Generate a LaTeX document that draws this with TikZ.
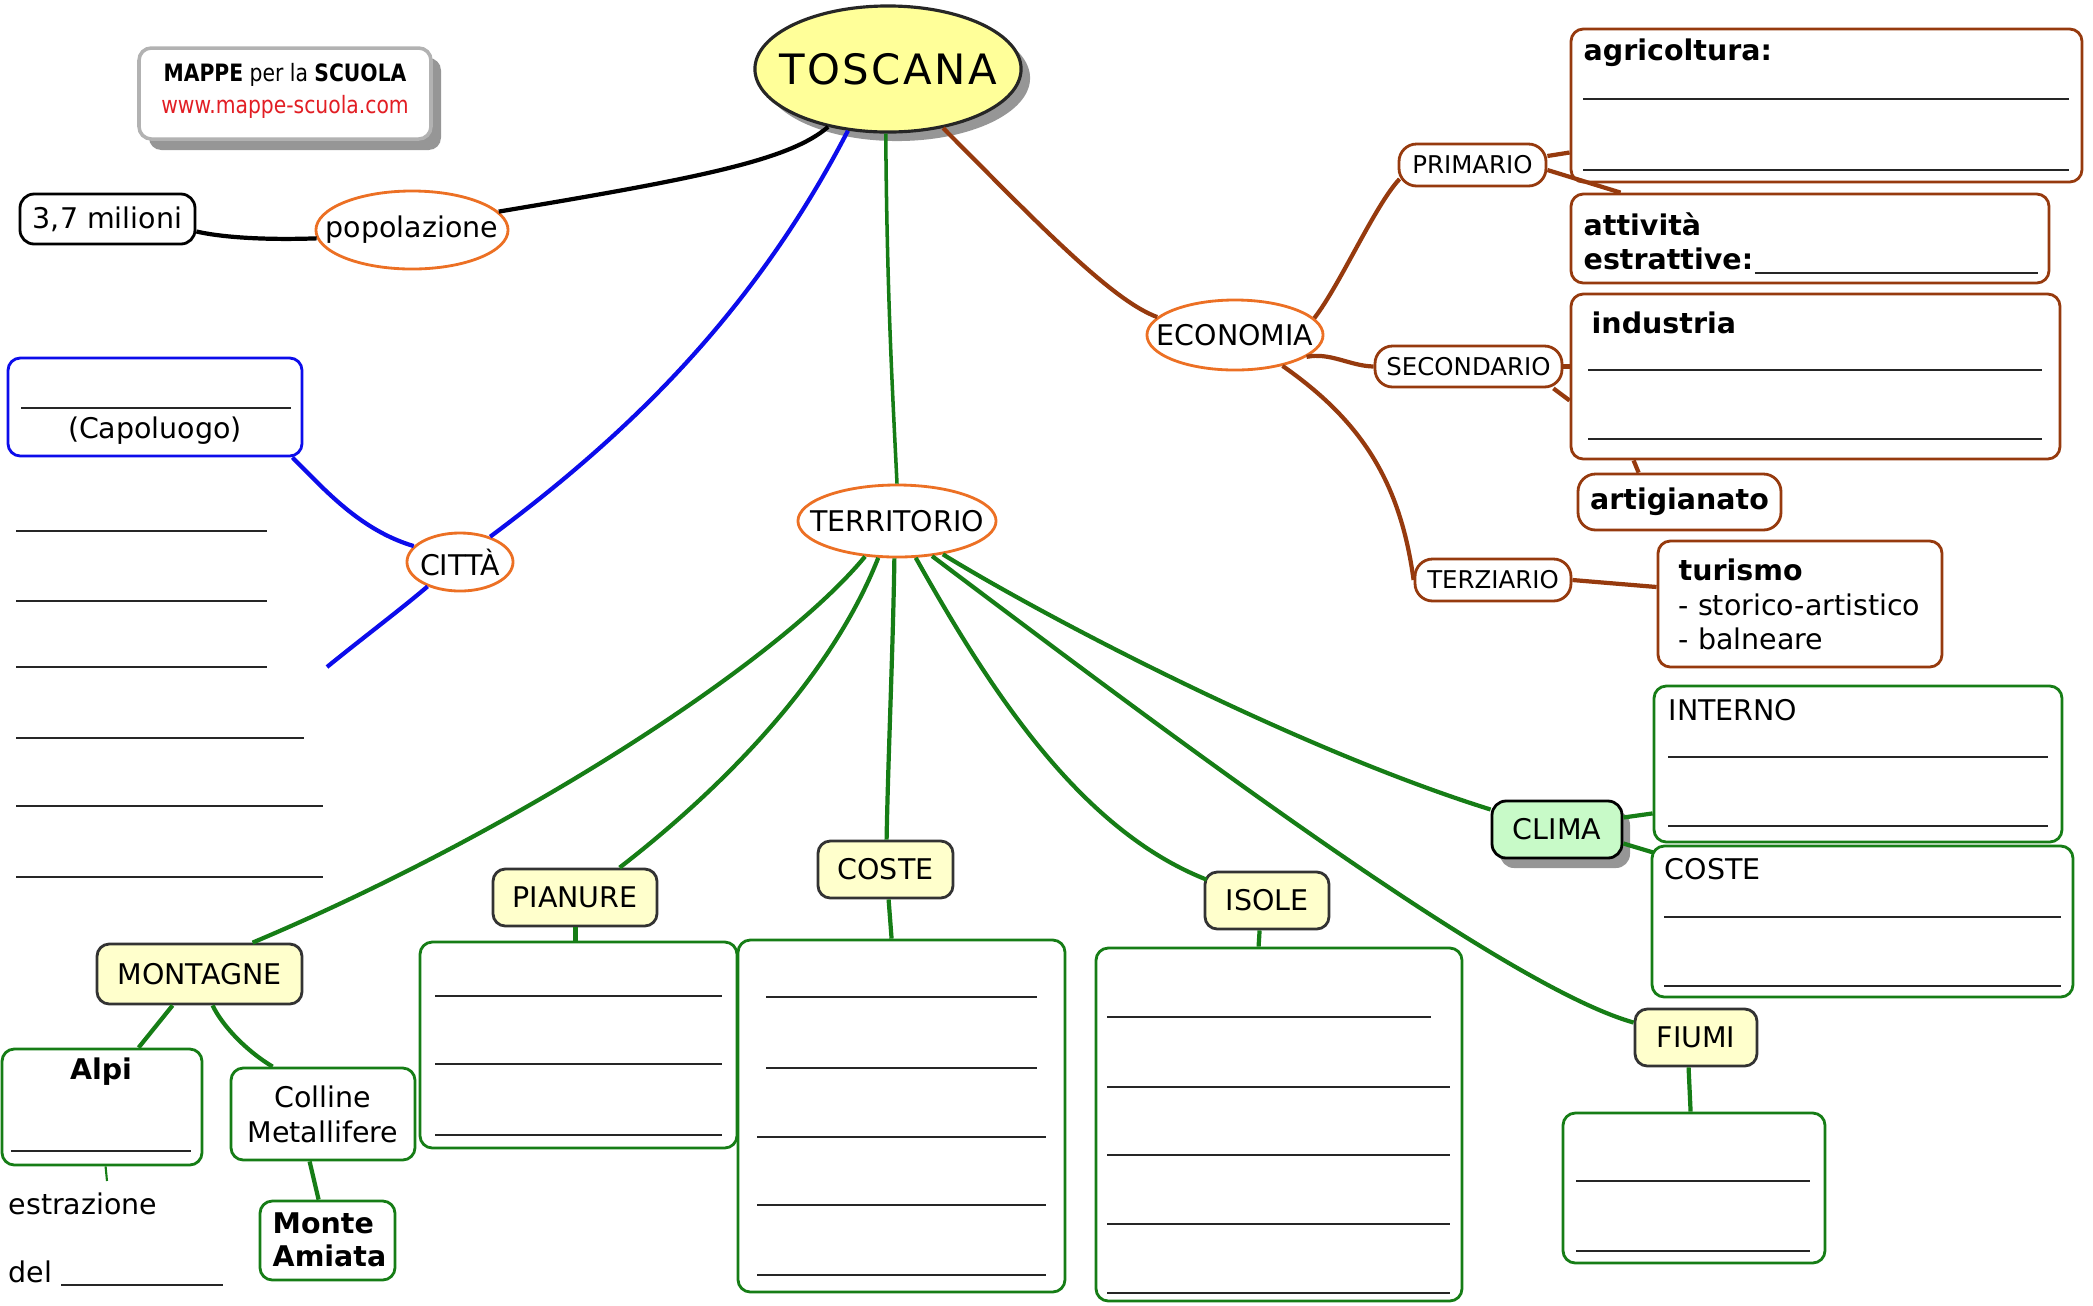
\documentclass[tikz,border=0pt]{standalone}
\usepackage{fontspec}
\setmainfont{DejaVu Sans}
\newfontfamily\logofont{DejaVu Sans}[FakeStretch=0.85]
\usetikzlibrary{shapes.geometric,fit,calc}
\definecolor{orng}{RGB}{236,112,36}
\definecolor{brwn}{RGB}{150,58,14}
\definecolor{grn}{RGB}{22,125,22}
\definecolor{blu}{RGB}{12,12,235}
\definecolor{yel}{RGB}{255,255,153}
\definecolor{lyel}{RGB}{255,255,204}
\definecolor{lgrn}{RGB}{200,250,200}
\definecolor{shad}{RGB}{150,150,150}
\definecolor{logored}{RGB}{226,30,36}
\newcommand\basefs{\fontsize{8.1}{9.9}\selectfont}
\newcommand\smallfs{\fontsize{6.95}{8.3}\selectfont}
\newcommand\boldfs{\fontsize{8.1}{9.5}\selectfont\bfseries}
\tikzset{
  every node/.style={font=\basefs, inner sep=0pt},
  fitbox/.style={draw, rounded corners=3.5pt, line width=0.8pt, inner sep=0pt, fill=white},
  brbox/.style={fitbox, draw=brwn},
  grbox/.style={fitbox, draw=grn},
  ylbox/.style={fitbox, draw=black!80, fill=lyel},
  ell/.style={ellipse, draw=orng, line width=0.8pt, fill=white, inner sep=0pt},
  conn/.style={line width=1.2pt},
  blank/.style={line width=0.5pt, draw=black!85},
}
\begin{document}
\begin{tikzpicture}[x=0.01cm,y=-0.01cm]
\useasboundingbox (0,0) rectangle (2093,1305);

% logo
\node[fitbox, draw=none, fill=shad, fit={(149,58) (441,150)}] (logosh) {};
\node[fitbox, draw=black!30, line width=1pt, fit={(139,48) (431,139)}] (logo) {};
\node[font=\logofont\fontsize{6.8}{8}\selectfont] (logo1) at (285,75) {\textbf{MAPPE} per la \textbf{SCUOLA}};
\node[font=\logofont\fontsize{6.8}{8}\selectfont, text=logored] (logo2) at (285,107) {www.mappe-scuola.com};

% TOSCANA
\node[ellipse, fill=shad, minimum width=2.66cm, minimum height=1.26cm] (toscsh) at (897,78) {};
\node[ellipse, draw=black!85, line width=0.9pt, fill=yel, minimum width=2.66cm, minimum height=1.26cm] (tosc) at (888,69) {};
\node[font={\fontsize{11.9}{14}\selectfont\addfontfeature{LetterSpace=6}}] (toscT) at (888,69) {TOSCANA};

% popolazione
\node[ell, minimum width=1.92cm, minimum height=0.78cm] (pop) at (412,230) {};
\node (popT) at (412,230) {popolazione};
\node[fitbox, draw=black, rounded corners=4pt, fit={(20,194) (195,244)}] (mil) {};
\node (milT) at (mil.center) {3,7 milioni};
\draw[conn] (tosc.224) .. controls (790,160) and (700,178) .. (pop.12);
\draw[conn] (pop.185) .. controls (270,240) and (225,238) .. (mil.-8);

% CITTA
\node[fitbox, draw=blu, fit={(8,358) (302,456)}] (capo) {};
\draw[blank] (21,408) -- (291,408);
\node (capoT) at (155,431) {(Capoluogo)};
\node[ell, minimum width=1.06cm, minimum height=0.58cm] (citta) at (460,562) {};
\node (cittaT) at (460,562) {CITTÀ};
\coordinate (cityend) at (327,667);
\draw[conn, blu] (tosc.237) .. controls (750,320) and (620,440) .. (citta.40);
\draw[conn, blu] ($(capo.south east)+(-11,0)$) .. controls (325,490) and (360,530) .. (citta.161);
\draw[conn, blu] (citta.217) .. controls (400,610) and (360,640) .. (cityend);
\draw[blank] (16,531) -- (267,531);
\draw[blank] (16,601) -- (267,601);
\draw[blank] (16,667) -- (267,667);
\draw[blank] (16,738) -- (304,738);
\draw[blank] (16,806) -- (323,806);
\draw[blank] (16,877) -- (323,877);

% TERRITORIO
\node[ell, minimum width=1.98cm, minimum height=0.72cm] (terr) at (897,521) {};
\node (terrT) at (897,521) {TERRITORIO};
\draw[conn, grn, line width=1pt] (tosc.268) .. controls (887,300) and (893,400) .. (terr.90);

% ECONOMIA
\node[ell, minimum width=1.76cm, minimum height=0.70cm] (eco) at (1235,335) {};
\node (ecoT) at (1235,335) {ECONOMIA};
\draw[conn, brwn] (tosc.313) .. controls (1030,215) and (1110,300) .. (eco.167);

\node[brbox, rounded corners=5pt, fit={(1399,144) (1546,186)}] (prim) {};
\node[font=\smallfs] (primT) at (prim.center) {PRIMARIO};
\node[brbox, fit={(1571,29) (2082,182)}] (agri) {};
\node[anchor=west, font=\boldfs] (agriT) at (1583,53) {agricoltura:};
\draw[blank] (1583,99) -- (2069,99);
\draw[blank] (1583,170) -- (2069,170);
\node[brbox, fit={(1571,194) (2049,283)}] (attiv) {};
\node[anchor=west, font=\boldfs] (attT1) at (1583,224) {attività};
\node[anchor=west, font=\boldfs] (attT2) at (1583,259) {estrattive:};
\coordinate (attR) at (2038,0);
\draw[blank] ($(attT2.base east)+(1,3)$) -- ($(attT2.base east -| attR)+(0,3)$);
\draw[conn, brwn] (eco.12) .. controls (1340,285) and (1375,205) .. ($(prim.west)+(2,14)$);
\draw[conn, brwn] ($(prim.east)+(0,-9)$) -- ($(agri.west)+(0,47)$);
\draw[conn, brwn] ($(prim.east)+(0,5)$) -- ($(attiv.north west)+(51,0)$);

\node[brbox, rounded corners=5pt, fit={(1375,346) (1562,387)}] (sec) {};
\node[font=\smallfs] (secT) at (sec.center) {SECONDARIO};
\node[brbox, fit={(1571,294) (2060,459)}] (ind) {};
\node[anchor=west, font=\boldfs] (indT) at (1591,323) {industria};
\draw[blank] (1588,370) -- (2042,370);
\draw[blank] (1588,439) -- (2042,439);
\node[brbox, rounded corners=5pt, fit={(1578,474) (1781,530)}] (arti) {};
\node[font=\boldfs] (artiT) at (arti.center) {artigianato};
\draw[conn, brwn] (eco.-17) .. controls (1330,352) and (1350,366) .. (sec.west);
\draw[conn, brwn] (sec.east) -- (sec.east -| ind.west);
\draw[conn, brwn] ($(sec.south east)+(-10,0)$) -- ($(ind.west)+(0,24)$);
\draw[conn, brwn] ($(ind.south west)+(64,0)$) -- ($(arti.north west)+(62,0)$);

\node[brbox, rounded corners=5pt, fit={(1415,559) (1571,601)}] (terz) {};
\node[font=\smallfs] (terzT) at (terz.center) {TERZIARIO};
\node[brbox, fit={(1658,541) (1942,667)}] (tur) {};
\node[anchor=west, font=\boldfs] (turT1) at (1678,570) {turismo};
\node[anchor=west] (turT2) at (1678,605) {- storico-artistico};
\node[anchor=west] (turT3) at (1678,639) {- balneare};
\draw[conn, brwn] (eco.-33) .. controls (1360,420) and (1400,480) .. (terz.west);
\draw[conn, brwn] (terz.east) -- ($(tur.west)+(0,-17)$);

% CLIMA
\node[fitbox, draw=none, fill=shad, rounded corners=4pt, fit={(1500,811) (1630,868)}] (climash) {};
\node[fitbox, draw=black, fill=lgrn, rounded corners=4pt, fit={(1492,801) (1622,858)}] (clima) {};
\node (climaT) at (clima.center) {CLIMA};
\node[grbox, fit={(1654,686) (2062,842)}] (intern) {};
\node[anchor=west] (internT) at (1668,710) {INTERNO};
\draw[blank] (1668,757) -- (2048,757);
\draw[blank] (1668,826) -- (2048,826);
\node[grbox, fit={(1652,846) (2073,997)}] (costc) {};
\node[anchor=west] (costcT) at (1664,869) {COSTE};
\draw[blank] (1664,917) -- (2061,917);
\draw[blank] (1664,986) -- (2061,986);
\draw[conn, grn] ($(clima.east)+(0,-12)$) -- ($(intern.south west)+(0,-30)$);
\draw[conn, grn] ($(clima.east)+(0,14)$) -- ($(costc.north west)+(3,8)$);

% territorio children
\node[ylbox, fit={(97,944) (302,1004)}] (mont) {};
\node (montT) at (mont.center) {MONTAGNE};
\node[ylbox, fit={(493,869) (657,926)}] (pian) {};
\node (pianT) at (pian.center) {PIANURE};
\node[ylbox, fit={(818,841) (953,898)}] (coste) {};
\node (costeT) at (coste.center) {COSTE};
\node[ylbox, fit={(1205,872) (1329,929)}] (isole) {};
\node (isoleT) at (isole.center) {ISOLE};
\node[ylbox, fit={(1635,1009) (1757,1066)}] (fiumi) {};
\node (fiumiT) at (fiumi.center) {FIUMI};
\draw[conn, grn] (terr.228) .. controls (780,660) and (520,830) .. ($(mont.north west)+(157,0)$);
\draw[conn, grn] (terr.243) .. controls (830,680) and (720,790) .. ($(pian.north west)+(128,0)$);
\draw[conn, grn] (terr.266) .. controls (893,650) and (888,760) .. ($(coste.north west)+(70,0)$);
\draw[conn, grn] (terr.297) .. controls (990,690) and (1080,830) .. ($(isole.north west)+(3,9)$);
\draw[conn, grn] (terr.315) .. controls (1150,720) and (1500,985) .. ($(fiumi.west)+(0,-15)$);
\draw[conn, grn] (terr.324) .. controls (1050,620) and (1300,750) .. ($(clima.west)+(0,-20)$);

% montagne children
\node[grbox, fit={(2,1049) (202,1165)}] (alpi) {};
\node[font=\boldfs] (alpiT) at (101,1072) {Alpi};
\draw[blank] (11,1151) -- (191,1151);
\node[grbox, fit={(231,1068) (415,1160)}] (coll) {};
\node[align=center] (collT) at (coll.center) {Colline\\Metallifere};
\node[grbox, fit={(260,1201) (395,1280)}] (amiata) {};
\node[anchor=west, align=left, font={\fontsize{8.1}{9.4}\selectfont\bfseries}] (amiataT) at (272,1240) {Monte\\Amiata};
\draw[conn, grn] ($(mont.south west)+(77,0)$) -- ($(alpi.north west)+(138,0)$);
\draw[conn, grn] ($(mont.south west)+(117,0)$) .. controls (222,1025) and (245,1050) .. ($(coll.north west)+(43,0)$);
\draw[conn, grn] ($(coll.south west)+(80,0)$) -- ($(amiata.north west)+(60,0)$);
\coordinate (alpitick) at (107,1181);
\draw[grn, line width=0.6pt] ($(alpi.south west)+(105,0)$) -- (alpitick);
\node[anchor=west] (estr) at (8,1204) {estrazione};
\node[anchor=west] (del) at (8,1272) {del};
\draw[blank] (61,1285) -- (223,1285);

% lists
\node[grbox, fit={(420,942) (737,1148)}] (pianL) {};
\draw[blank] (435,996) -- (722,996);
\draw[blank] (435,1064) -- (722,1064);
\draw[blank] (435,1135) -- (722,1135);
\draw[conn, grn] ($(pian.south west)+(84,0)$) -- ($(pianL.north west)+(157,0)$);

\node[grbox, fit={(738,940) (1065,1292)}] (costeL) {};
\draw[blank] (766,997) -- (1037,997);
\draw[blank] (766,1068) -- (1037,1068);
\draw[blank] (757,1137) -- (1046,1137);
\draw[blank] (757,1205) -- (1046,1205);
\draw[blank] (757,1275) -- (1046,1275);
\draw[conn, grn] ($(coste.south west)+(72,0)$) -- ($(costeL.north west)+(155,0)$);

\node[grbox, fit={(1096,948) (1462,1301)}] (isoleL) {};
\draw[blank] (1107,1017) -- (1431,1017);
\draw[blank] (1107,1087) -- (1450,1087);
\draw[blank] (1107,1155) -- (1450,1155);
\draw[blank] (1107,1224) -- (1450,1224);
\draw[blank] (1107,1293) -- (1450,1293);
\draw[conn, grn] ($(isole.south west)+(56,0)$) -- ($(isoleL.north west)+(164,0)$);

\node[grbox, fit={(1563,1113) (1825,1263)}] (fiumiL) {};
\draw[blank] (1576,1181) -- (1810,1181);
\draw[blank] (1576,1251) -- (1810,1251);
\draw[conn, grn] ($(fiumi.south west)+(55,0)$) -- ($(fiumiL.north west)+(129,0)$);
\end{tikzpicture}
\end{document}
